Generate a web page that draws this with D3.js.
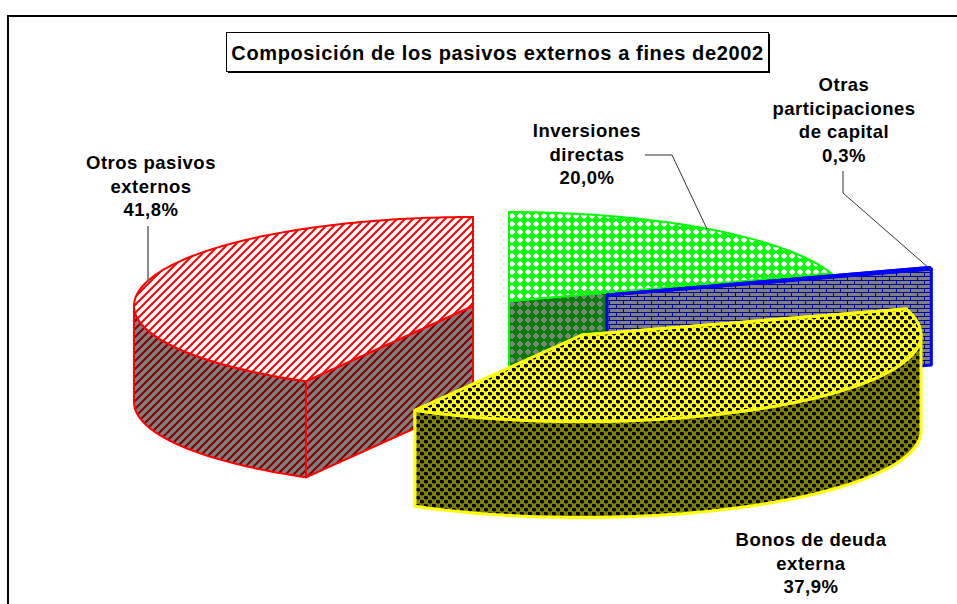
<!DOCTYPE html>
<html>
<head>
<meta charset="utf-8">
<script src="https://cdn.jsdelivr.net/npm/d3@7/dist/d3.min.js"></script>
<style>
html,body{margin:0;padding:0;background:#fff;overflow:hidden}
svg{display:block}
text{font-family:"Liberation Sans",Arial,sans-serif;font-weight:bold;fill:#000}
</style>
</head>
<body>
<div id="chart"></div>
<script>
const titleText = "Composición de los pasivos externos a fines de2002";
const categories = ["Inversiones directas","Otras participaciones de capital","Bonos de deuda externa","Otros pasivos externos"];
const shares = [20.0, 0.3, 37.9, 41.8];
const shareLabels = ["20,0%","0,3%","37,9%","41,8%"];
const labelLines = [["Inversiones","directas"],["Otras","participaciones","de capital"],["Bonos de deuda","externa"],["Otros pasivos","externos"]];

const W = 957, H = 604, RX = 339, RY_BACK = 89, RY_FRONT = 86.5, DEPTH = 96;
const centers = [[509,301],[607,295],[582,335],[473,306]];
const labelPos = [[587,137],[844,91],[811,546],[151,169]];
const lineH = 23.7;
const leaders = [
  [[645,155],[672,155],[707,229]],
  [[843,171],[843,193],[930,269]],
  null,
  [[148,226],[148,282]]
];
const looks = [
  {top:"dGreenT", wall:"dGreenW", stroke:"#00ff00", sw:2},
  {top:"dBlueW",  wall:"dBlueW",  stroke:"#0000ff", sw:3},
  {top:"dYellowT",wall:"dYellowW",stroke:"#ffff00", sw:3},
  {top:"dRedT",   wall:"dRedW",   stroke:"#ff0000", sw:2}
];

const svg = d3.select("#chart").append("svg").attr("width",W).attr("height",H);
const defs = svg.append("defs");

function tile(id,w,h,bg,draw){
  const p = defs.append("pattern").attr("id",id).attr("patternUnits","userSpaceOnUse")
    .attr("width",w).attr("height",h);
  p.append("rect").attr("width",w).attr("height",h).attr("fill",bg);
  draw(p);
}
const rects = (p,list,fill)=>p.selectAll(null).data(list).enter().append("rect")
  .attr("x",d=>d[0]).attr("y",d=>d[1]).attr("width",d=>d[2]).attr("height",d=>d[3])
  .attr("fill",fill).attr("shape-rendering","crispEdges");

const stripes = c => p => p.append("path").attr("d","M-2,2L2,-2M0,8L8,0M6,10L10,6")
  .attr("stroke",c).attr("stroke-width",2).attr("fill","none");
tile("dRedT",8,8,"#fff",stripes("#ff0000"));
tile("dRedW",8,8,"#808080",stripes("#800000"));

const diamondRows = [[3,0,2,1],[2,1,4,1],[1,2,6,1],[0,3,8,2],[1,5,6,1],[2,6,4,1],[3,7,2,1]];
tile("dGreenT",8,8,"#fff",p=>rects(p,diamondRows,"#00ff00"));
tile("dGreenW",8,8,"#808080",p=>rects(p,diamondRows,"#008000"));

const bricks = [[0,0,14,1],[0,4,14,1],[0,1,1,3],[7,5,1,3]];
tile("dBlueW",14,8,"#808080",p=>rects(p,bricks,"#0000a8"));

const sphereBlack = [[0,0,3,3],[4,4,3,3],[3,1,1,2],[7,5,1,2]];
const sphereDark = [[1,3,2,1],[5,7,2,1],[3,0,1,1],[7,4,1,1]];
tile("dYellowT",8,8,"#ffff00",p=>{rects(p,sphereBlack,"#000");rects(p,sphereDark,"#808000");});
tile("dYellowW",8,8,"#808000",p=>{rects(p,sphereBlack,"#000");rects(p,sphereDark,"#404000");});

// frame
svg.append("path").attr("d",`M8,${H}V16H${W}`).attr("fill","none").attr("stroke","#000").attr("stroke-width",2);

// title
svg.append("rect").attr("x",228).attr("y",34).attr("width",542).attr("height",39).attr("fill","#000");
svg.append("rect").attr("x",226.5).attr("y",32.5).attr("width",542).attr("height",39).attr("fill","#fff").attr("stroke","#000");
svg.append("text").attr("x",497.5).attr("y",59.5).attr("text-anchor","middle").attr("font-size",20)
  .attr("letter-spacing",0.62).text(titleText);

const pie = d3.pie().value(d=>d).sort(null);
const arcs = pie(shares);
const line = d3.line();

function slicePts(a,i){
  const [cx,cy] = centers[i];
  const sx = d3.scaleLinear().domain([-1,1]).range([cx-RX,cx+RX]);
  const sy = d3.scaleLinear().domain([-1,0,1]).range([cy+RY_FRONT,cy,cy-RY_BACK]);
  const at = (t,dz=0)=>[sx(Math.sin(t)),sy(Math.cos(t))+dz];
  const sample = (t0,t1)=>{
    const n = Math.max(2,Math.ceil(Math.abs(t1-t0)/0.02));
    return d3.range(n+1).map(k=>t0+(t1-t0)*k/n);
  };
  return {c:[cx,cy],at,sample};
}

// draw order: back to front
const order = [0,1,3,2];
order.forEach(i=>{
  const a = arcs[i], L = looks[i], g = svg.append("g");
  const {c,at,sample} = slicePts(a,i);
  const wallStyle = s=>s.attr("fill",`url(#${L.wall})`).attr("stroke",L.stroke)
    .attr("stroke-width",L.sw).attr("stroke-linejoin","round");
  // flat walls along the two radii
  [a.startAngle,a.endAngle].forEach(t=>{
    const e = at(t);
    g.append("path").call(wallStyle)
      .attr("d",line([c,e,[e[0],e[1]+DEPTH],[c[0],c[1]+DEPTH]])+"Z");
  });
  // curved outer wall, visible part only
  const t0 = Math.max(a.startAngle,Math.PI/2), t1 = Math.min(a.endAngle,Math.PI*1.5);
  if(t1>t0){
    const ts = sample(t0,t1);
    g.append("path").call(wallStyle)
      .attr("d",line(ts.map(t=>at(t)).concat(ts.slice().reverse().map(t=>at(t,DEPTH))))+"Z");
  }
  // top face
  g.append("path").attr("fill",`url(#${L.top})`).attr("stroke",L.stroke)
    .attr("stroke-width",L.sw).attr("stroke-linejoin","round")
    .attr("d",line([c].concat(sample(a.startAngle,a.endAngle).map(t=>at(t))))+"Z");
});

// leaders
leaders.forEach((l,i)=>{
  if(!l) return;
  svg.append("path").attr("d",line(l)).attr("fill","none")
    .attr("stroke",i===3?"#666":"#333").attr("stroke-width",i===3?1.5:1);
});

// labels
categories.forEach((c,i)=>{
  const [x,y] = labelPos[i];
  const lines = labelLines[i].concat([shareLabels[i]]);
  lines.forEach((t,k)=>{
    svg.append("text").attr("x",x).attr("y",y+k*lineH).attr("text-anchor","middle")
      .attr("font-size",18.5).attr("letter-spacing",0.5).text(t);
  });
});
</script>
</body>
</html>
